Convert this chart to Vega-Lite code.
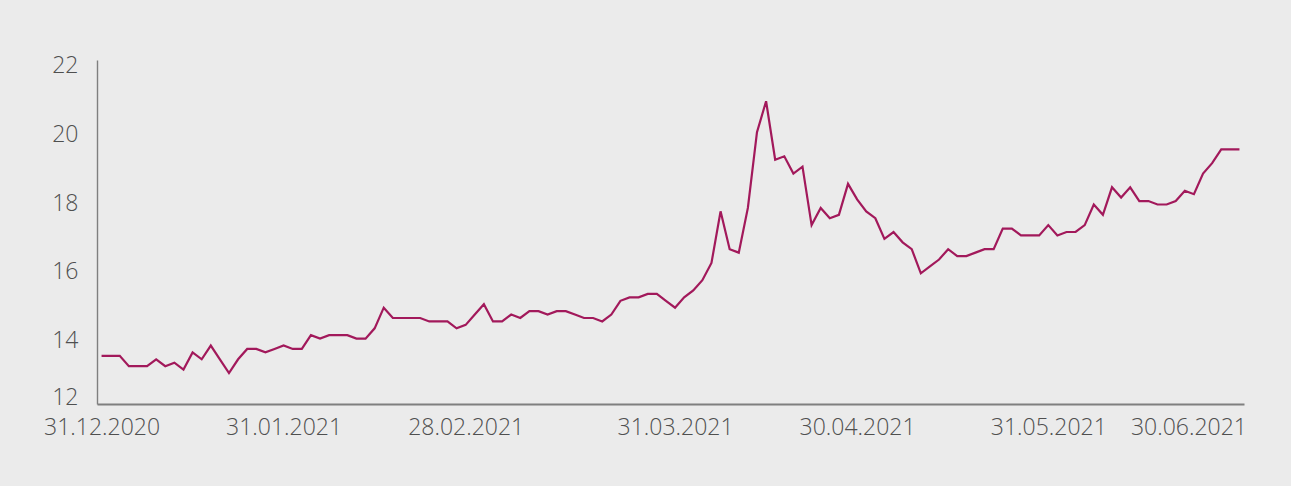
{
  "$schema": "https://vega.github.io/schema/vega-lite/v6.json",
  "width": 1147,
  "height": 344,
  "autosize": "none",
  "padding": {"left": 97, "top": 60, "right": 47, "bottom": 82},
  "background": "#ebebeb",
  "config": {"view": {"stroke": null}, "font": "Open Sans"},
  "data": {"values": [
    {"i":0,"v":13.4},{"i":1,"v":13.4},{"i":2,"v":13.4},{"i":3,"v":13.1},{"i":4,"v":13.1},
    {"i":5,"v":13.1},{"i":6,"v":13.3},{"i":7,"v":13.1},{"i":8,"v":13.2},{"i":9,"v":13.0},
    {"i":10,"v":13.5},{"i":11,"v":13.3},{"i":12,"v":13.7},{"i":13,"v":13.3},{"i":14,"v":12.9},
    {"i":15,"v":13.3},{"i":16,"v":13.6},{"i":17,"v":13.6},{"i":18,"v":13.5},{"i":19,"v":13.6},
    {"i":20,"v":13.7},{"i":21,"v":13.6},{"i":22,"v":13.6},{"i":23,"v":14.0},{"i":24,"v":13.9},
    {"i":25,"v":14.0},{"i":26,"v":14.0},{"i":27,"v":14.0},{"i":28,"v":13.9},{"i":29,"v":13.9},
    {"i":30,"v":14.2},{"i":31,"v":14.8},{"i":32,"v":14.5},{"i":33,"v":14.5},{"i":34,"v":14.5},
    {"i":35,"v":14.5},{"i":36,"v":14.4},{"i":37,"v":14.4},{"i":38,"v":14.4},{"i":39,"v":14.2},
    {"i":40,"v":14.3},{"i":41,"v":14.6},{"i":42,"v":14.9},{"i":43,"v":14.4},{"i":44,"v":14.4},
    {"i":45,"v":14.6},{"i":46,"v":14.5},{"i":47,"v":14.7},{"i":48,"v":14.7},{"i":49,"v":14.6},
    {"i":50,"v":14.7},{"i":51,"v":14.7},{"i":52,"v":14.6},{"i":53,"v":14.5},{"i":54,"v":14.5},
    {"i":55,"v":14.4},{"i":56,"v":14.6},{"i":57,"v":15.0},{"i":58,"v":15.1},{"i":59,"v":15.1},
    {"i":60,"v":15.2},{"i":61,"v":15.2},{"i":62,"v":15.0},{"i":63,"v":14.8},{"i":64,"v":15.1},
    {"i":65,"v":15.3},{"i":66,"v":15.6},{"i":67,"v":16.1},{"i":68,"v":17.6},{"i":69,"v":16.5},
    {"i":70,"v":16.4},{"i":71,"v":17.7},{"i":72,"v":19.9},{"i":73,"v":20.8},{"i":74,"v":19.1},
    {"i":75,"v":19.2},{"i":76,"v":18.7},{"i":77,"v":18.9},{"i":78,"v":17.2},{"i":79,"v":17.7},
    {"i":80,"v":17.4},{"i":81,"v":17.5},{"i":82,"v":18.4},{"i":83,"v":17.95},{"i":84,"v":17.6},
    {"i":85,"v":17.4},{"i":86,"v":16.8},{"i":87,"v":17.0},{"i":88,"v":16.7},{"i":89,"v":16.5},
    {"i":90,"v":15.8},{"i":91,"v":16.0},{"i":92,"v":16.2},{"i":93,"v":16.5},{"i":94,"v":16.3},
    {"i":95,"v":16.3},{"i":96,"v":16.4},{"i":97,"v":16.5},{"i":98,"v":16.5},{"i":99,"v":17.1},
    {"i":100,"v":17.1},{"i":101,"v":16.9},{"i":102,"v":16.9},{"i":103,"v":16.9},{"i":104,"v":17.2},
    {"i":105,"v":16.9},{"i":106,"v":17.0},{"i":107,"v":17.0},{"i":108,"v":17.2},{"i":109,"v":17.8},
    {"i":110,"v":17.5},{"i":111,"v":18.3},{"i":112,"v":18.0},{"i":113,"v":18.3},{"i":114,"v":17.9},
    {"i":115,"v":17.9},{"i":116,"v":17.8},{"i":117,"v":17.8},{"i":118,"v":17.9},{"i":119,"v":18.2},
    {"i":120,"v":18.1},{"i":121,"v":18.7},{"i":122,"v":19.0},{"i":123,"v":19.4},{"i":124,"v":19.4},
    {"i":125,"v":19.4}
  ]},
  "mark": {"type": "line", "color": "#a2195b", "strokeWidth": 2.2},
  "encoding": {
    "x": {
      "field": "i",
      "type": "quantitative",
      "scale": {"domain": [-0.5, 125.5], "nice": false, "zero": false},
      "axis": {
        "title": null,
        "values": [0, 20, 40, 63, 83, 104, 125],
        "labelExpr": "datum.value == 0 ? '31.12.2020' : datum.value == 20 ? '31.01.2021' : datum.value == 40 ? '28.02.2021' : datum.value == 63 ? '31.03.2021' : datum.value == 83 ? '30.04.2021' : datum.value == 104 ? '31.05.2021' : '30.06.2021'",
        "grid": false,
        "ticks": false,
        "tickSize": 0,
        "labelPadding": 12,
        "labelFlush": false,
        "labelOverlap": false,
        "domainColor": "#7f7f7f",
        "domainWidth": 2,
        "labelFont": "Open Sans",
        "labelFontSize": 23,
        "labelFontWeight": 300,
        "labelColor": "#4f4f4f",
        "labelAlign": {"condition": {"test": "datum.value == 125", "value": "right"}, "value": "center"},
        "labelOffset": {"condition": {"test": "datum.value == 125", "value": 7}, "value": 0}
      }
    },
    "y": {
      "field": "v",
      "type": "quantitative",
      "scale": {"domain": [12, 22], "nice": false, "zero": false},
      "axis": {
        "title": null,
        "values": [12, 14, 16, 18, 20, 22],
        "grid": false,
        "ticks": false,
        "tickSize": 0,
        "labelPadding": 19,
        "labelFlush": false,
        "labelOverlap": false,
        "domainColor": "#7f7f7f",
        "domainWidth": 1.4,
        "labelFont": "Open Sans",
        "labelFontSize": 23,
        "labelFontWeight": 300,
        "labelColor": "#4f4f4f",
        "labelOffset": {"condition": {"test": "datum.value == 12", "value": -7}, "value": 5.5}
      }
    }
  }
}
